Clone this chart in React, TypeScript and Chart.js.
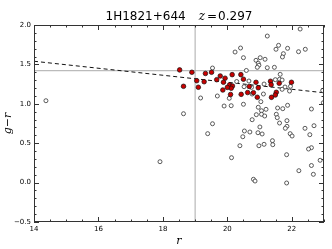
import React, { useEffect, useRef } from "react";
import { Chart, registerables } from "chart.js";
Chart.register(...registerables);

const titleName = "1H1821+644";
const titleZ = "0.297";

const xTicks = [14, 16, 18, 20, 22];
const xTickLabels = ["14", "16", "18", "20", "22"];
const yTicks = [-0.5, 0, 0.5, 1, 1.5, 2];
const yTickLabels = ["\u22120.5", "0.0", "0.5", "1.0", "1.5", "2.0"];
const xRange = [14, 23];
const yRange = [-0.5, 2.0];

const hLineY = 1.42;
const vLineX = 19;
const fitX = [14, 23];
const fitY = [1.54, 1.14];

const redX = [18.52, 18.9, 19.32, 19.51, 19.78, 20.15, 20.42, 18.64, 19.05, 19.28, 19.67, 19.93, 19.88, 20.5, 20.07, 20.16, 19.1, 19.86, 20.12, 20.1, 20.43, 20.63, 20.81, 20.93, 20.68, 20.89, 20.96, 21.34, 21.36, 21.61, 21.99, 21.52, 21.49, 21.37, 20.0];
const redY = [1.43, 1.4, 1.385, 1.4, 1.353, 1.37, 1.37, 1.222, 1.293, 1.28, 1.306, 1.325, 1.273, 1.312, 1.24, 1.226, 1.21, 1.175, 1.197, 1.118, 1.12, 1.143, 1.141, 1.083, 1.22, 1.273, 1.204, 1.286, 1.242, 1.26, 1.273, 1.146, 1.112, 1.082, 1.208];

const openX = [14.37, 17.91, 18.64, 19.17, 22.26, 21.24, 21.59, 21.51, 21.87, 22.42, 22.21, 21.74, 21.71, 21.17, 21.02, 20.89, 20.96, 20.98, 20.93, 21.24, 21.46, 21.64, 20.24, 20.41, 20.5, 19.54, 20.59, 20.67, 20.29, 21.49, 21.62, 21.7, 21.14, 21.79, 21.96, 21.7, 20.75, 20.52, 21.93, 22.96, 21.12, 20.77, 19.69, 20.06, 22.98, 21.04, 20.5, 19.9, 20.12, 20.96, 21.06, 21.2, 21.56, 21.72, 21.87, 22.61, 20.9, 21.06, 21.16, 21.52, 21.55, 20.77, 21.85, 21.62, 19.54, 21.01, 21.85, 21.8, 22.41, 22.69, 19.39, 20.53, 20.7, 20.95, 21.08, 20.48, 21.95, 22.01, 22.56, 21.4, 21.41, 20.98, 21.14, 20.39, 22.61, 22.52, 21.84, 20.13, 22.88, 22.61, 22.22, 22.67, 20.81, 20.86, 21.84];
const openY = [1.039, 0.265, 0.874, 1.074, 1.949, 1.86, 1.742, 1.692, 1.704, 1.692, 1.661, 1.636, 1.594, 1.565, 1.585, 1.552, 1.514, 1.489, 1.463, 1.458, 1.463, 1.374, 1.657, 1.708, 1.585, 1.454, 1.423, 1.289, 1.283, 1.306, 1.311, 1.302, 1.251, 1.213, 1.222, 1.184, 1.209, 1.217, 1.162, 1.169, 1.124, 1.124, 1.099, 1.07, 1.014, 1.027, 0.994, 0.972, 0.976, 0.956, 0.912, 0.93, 0.947, 0.938, 0.981, 0.934, 0.862, 0.867, 0.845, 0.867, 0.824, 0.798, 0.786, 0.756, 0.747, 0.706, 0.714, 0.689, 0.689, 0.722, 0.621, 0.655, 0.642, 0.633, 0.617, 0.582, 0.621, 0.591, 0.608, 0.532, 0.481, 0.468, 0.486, 0.468, 0.443, 0.426, 0.354, 0.316, 0.283, 0.217, 0.151, 0.105, 0.042, 0.02, -0.005];

const pts = (xs: number[], ys: number[]) => xs.map((x, i) => ({ x, y: ys[i] }));

const framePlugin = {
  id: "frame",
  afterDatasetsDraw(chart: any) {
    const { ctx, chartArea: a, scales } = chart;
    const xs = scales.x;
    const ys = scales.y;
    ctx.save();
    ctx.strokeStyle = "#333";
    ctx.lineWidth = 1;
    ctx.strokeRect(Math.round(a.left) + 0.5, Math.round(a.top) + 0.5, Math.round(a.right - a.left) - 1, Math.round(a.bottom - a.top) - 1);
    ctx.beginPath();
    for (let v = xRange[0]; v <= xRange[1] + 1e-9; v += 0.5) {
      const px = Math.round(xs.getPixelForValue(v)) + 0.5;
      const major = Math.abs(v / 2 - Math.round(v / 2)) < 1e-6;
      const len = major ? 5 : 2.5;
      ctx.moveTo(px, a.bottom);
      ctx.lineTo(px, a.bottom - len);
      ctx.moveTo(px, a.top);
      ctx.lineTo(px, a.top + len);
    }
    for (let k = 0; k <= 25; k++) {
      const v = yRange[0] + k * 0.1;
      const py = Math.round(ys.getPixelForValue(v)) + 0.5;
      const major = k % 5 === 0;
      const len = major ? 5 : 2.5;
      ctx.moveTo(a.left, py);
      ctx.lineTo(a.left + len, py);
      ctx.moveTo(a.right, py);
      ctx.lineTo(a.right - len, py);
    }
    ctx.stroke();

    // title
    const cx = (a.left + a.right) / 2;
    const ty = 17;
    ctx.fillStyle = "#000";
    ctx.textBaseline = "middle";
    const fSans = "12px 'DejaVu Sans'";
    const fIt = "italic 12px 'DejaVu Serif'";
    ctx.font = fSans;
    const w1 = ctx.measureText(titleName).width;
    const gap = 13;
    ctx.font = fIt;
    const wz = ctx.measureText("z").width;
    ctx.font = fSans;
    const weq = ctx.measureText("=").width;
    const wv = ctx.measureText(titleZ).width;
    const total = w1 + gap + wz + 2 + weq + 1 + wv;
    let x0 = cx - total / 2;
    ctx.textAlign = "left";
    ctx.fillText(titleName, x0, ty);
    x0 += w1 + gap;
    ctx.font = fIt;
    ctx.fillText("z", x0, ty);
    x0 += wz + 2;
    ctx.font = fSans;
    ctx.fillText("=", x0, ty);
    x0 += weq + 1;
    ctx.fillText(titleZ, x0, ty);

    // axis titles
    ctx.font = "italic 11px 'DejaVu Serif'";
    ctx.textAlign = "center";
    ctx.fillText("r", cx, 241);
    ctx.save();
    ctx.translate(8, (a.top + a.bottom) / 2);
    ctx.rotate(-Math.PI / 2);
    ctx.fillText("g\u2212r", 0, 0);
    ctx.restore();
    ctx.restore();
  },
};

export default function App() {
  const ref = useRef<HTMLCanvasElement>(null);
  useEffect(() => {
    document.body.style.margin = "0";
    const chart = new Chart(ref.current as HTMLCanvasElement, {
      type: "scatter",
      data: {
        datasets: [
          {
            data: [{ x: xRange[0], y: hLineY }, { x: xRange[1], y: hLineY }],
            showLine: true,
            borderColor: "#aaaaaa",
            borderWidth: 1,
            pointRadius: 0,
            order: 5,
          },
          {
            data: [{ x: vLineX, y: yRange[0] }, { x: vLineX, y: yRange[1] }],
            showLine: true,
            borderColor: "#aaaaaa",
            borderWidth: 1,
            pointRadius: 0,
            order: 5,
          },
          {
            data: pts(fitX, fitY),
            showLine: true,
            borderColor: "#111",
            borderWidth: 1,
            borderDash: [4, 3],
            pointRadius: 0,
            order: 4,
          },
          {
            data: pts(openX, openY),
            pointRadius: 2,
            pointBackgroundColor: "#ffffff",
            pointBorderColor: "#333",
            pointBorderWidth: 0.8,
            order: 2,
          },
          {
            data: pts(redX, redY),
            pointRadius: 2.3,
            pointBackgroundColor: "#c80000",
            pointBorderColor: "#111",
            pointBorderWidth: 0.7,
            order: 1,
          },
        ],
      },
      options: {
        animation: false,
        responsive: false,
        devicePixelRatio: 1,
        layout: { padding: { top: 25, right: 8, left: 0, bottom: 0 } },
        plugins: { legend: { display: false }, tooltip: { enabled: false }, title: { display: false } },
        scales: {
          x: {
            type: "linear",
            min: xRange[0],
            max: xRange[1],
            grid: { display: false, drawTicks: false },
            border: { display: false },
            afterBuildTicks: (s: any) => {
              s.ticks = xTicks.map((v) => ({ value: v }));
            },
            afterFit: (s: any) => {
              s.height = 27;
            },
            ticks: {
              padding: 3,
              maxRotation: 0,
              autoSkip: false,
              color: "#000",
              font: { family: "'DejaVu Sans'", size: 7 },
              callback: (v: any) => xTickLabels[xTicks.indexOf(Number(v))] ?? "",
            },
          },
          y: {
            type: "linear",
            min: yRange[0],
            max: yRange[1],
            grid: { display: false, drawTicks: false },
            border: { display: false },
            afterBuildTicks: (s: any) => {
              s.ticks = yTicks.map((v) => ({ value: v }));
            },
            afterFit: (s: any) => {
              s.width = 34;
            },
            ticks: {
              padding: 3,
              autoSkip: false,
              color: "#000",
              font: { family: "'DejaVu Sans'", size: 7 },
              callback: (v: any) => yTickLabels[yTicks.indexOf(Number(v))] ?? "",
            },
          },
        },
      },
      plugins: [framePlugin],
    });
    return () => chart.destroy();
  }, []);
  return (
    <div style={{ position: "absolute", left: 0, top: 0, width: 332, height: 249, background: "#fff" }}>
      <canvas ref={ref} width={332} height={249} />
    </div>
  );
}
